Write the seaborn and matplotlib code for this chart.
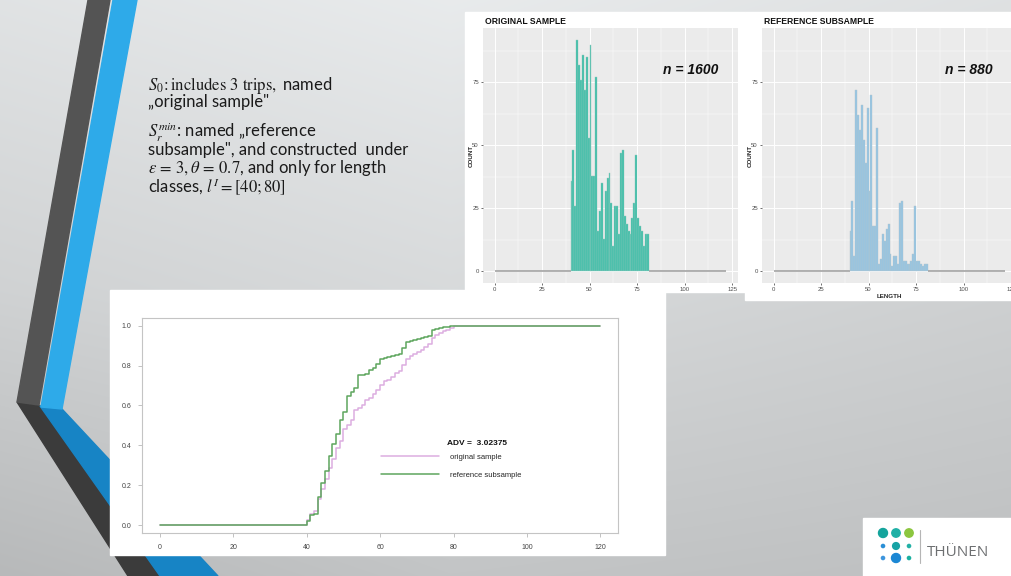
import numpy as np
import pandas as pd
import matplotlib
matplotlib.use("Agg")
import matplotlib.pyplot as plt
from matplotlib.patches import Polygon, Rectangle, Circle
from matplotlib.ticker import MultipleLocator
import seaborn as sns

# length classes and counts
length_classes = list(range(40, 81))
original_counts = [36, 48, 26, 92, 82, 76, 86, 72, 85, 53,
                   90, 38, 38, 77, 16, 24, 35, 13, 32, 37,
                   39, 27, 10, 26, 26, 15, 47, 48, 22, 19,
                   16, 15, 21, 27, 46, 21, 18, 16, 10, 15, 15]
reference_counts = [16, 28, 6, 72, 62, 56, 66, 52, 43, 65,
                    32, 70, 18, 18, 57, 3, 5, 15, 12, 17,
                    19, 7, 2, 6, 6, 3, 27, 28, 4, 4,
                    3, 3, 4, 7, 26, 4, 4, 3, 2, 3, 3]
hist_bin_edges = list(range(0, 123))
ecdf_range = [0, 120]          # empty length classes at both ends of the ECDF
hist_xticks = [0, 25, 50, 75, 100, 125]
hist_yticks = [0, 25, 50, 75]
ecdf_xticks = [0, 20, 40, 60, 80, 100, 120]
ecdf_yticks = [0.0, 0.2, 0.4, 0.6, 0.8, 1.0]
adv_value = 3.02375

sns.set_theme(style="white")
plt.rcParams['font.family'] = ['Liberation Sans', 'DejaVu Sans']
plt.rcParams['mathtext.fontset'] = 'stix'

W, H = 1012, 576
fig = plt.figure(figsize=(W / 100, H / 100), dpi=100)


def px_axes(left, top, right, bottom):
    return fig.add_axes([left / W, 1 - bottom / H, (right - left) / W, (bottom - top) / H])


# ---- slide background ----
bg = fig.add_axes([0, 0, 1, 1])
yy, xx = np.mgrid[0:H, 0:W]
v = 0.925 - 0.13 * (yy / H) - 0.07 * np.abs(xx - 450) / W
v -= 0.07 * np.clip(yy / H - 0.5, 0, None) * (1 - xx / W)
img = np.clip(np.dstack([v * 0.985, v * 0.995, v]), 0, 1)
bg.imshow(img, extent=(0, W, H, 0), aspect='auto')
bg.set_xlim(0, W)
bg.set_ylim(H, 0)
bg.axis('off')

bg.add_patch(Polygon([(17, 402), (40, 406), (160, 576), (128, 576)], color='#3b3b3b'))
bg.add_patch(Polygon([(40, 406), (62, 409), (218, 576), (160, 576)], color='#1784c5'))
bg.add_patch(Polygon([(88, 0), (110, 0), (39, 405), (17, 402)], color='#545454'))
bg.add_patch(Polygon([(113, 0), (137, 0), (62, 409), (41, 407)], color='#2eaae9'))

# white image frames
bg.add_patch(Rectangle((465, 12), 280, 280, color='white'))
bg.add_patch(Rectangle((745, 12), 267, 288, color='white'))
bg.add_patch(Rectangle((110, 290), 555, 265, color='white'))
bg.add_patch(Rectangle((863, 518), 149, 58, color='white'))

# slide text
txt = dict(fontsize=12, color='#1a1a1a', family=['Lato', 'DejaVu Sans'], va='center', ha='left')
bg.text(148, 85, r"$S_0\!: \mathrm{includes\ 3\ trips,}$ named", **txt)
bg.text(148, 102, "\u201eoriginal sample\"", **txt)
bg.text(148, 132, r"$S_r^{min}$: named " + "\u201ereference", **txt)
bg.text(148, 150, "subsample\", and constructed  under", **txt)
bg.text(148, 168, r"$\varepsilon\,=\,3, \theta\,=\,0.7$, and only for length", **txt)
bg.text(148, 187, r"classes, $l^I = [40; 80]$", **txt)

# logo
dots = [(883, 533, 4.5, '#14a49c'), (896, 533, 4.2, '#1fb0a6'), (909, 533, 4.2, '#8cc63f'),
        (883, 546, 1.6, '#2a8fd6'), (896, 546, 3.4, '#17a3a5'), (909, 546, 1.6, '#22b1a6'),
        (883, 558, 1.6, '#3d95dd'), (896, 558, 4.5, '#1b87d4'), (909, 558, 1.6, '#1ab0a0')]
for cx, cy, r, c in dots:
    bg.add_patch(Circle((cx, cy), r, color=c))
bg.plot([920, 920], [530, 563], color='#b5b5b5', lw=0.8)
bg.text(927, 553, "TH\u00dcNEN", fontsize=11, color='#6d6f71',
        family=['Open Sans', 'DejaVu Sans'], va='center', ha='left')


# ---- histograms ----
def gg_hist(ax, counts, fill, edge, title, label_n, xlabel):
    sns.histplot(x=length_classes, weights=counts, bins=hist_bin_edges, color=fill,
                 edgecolor=edge, linewidth=0.3, alpha=1, ax=ax)
    # empty classes show as a grey base line, as in ggplot
    for p in ax.patches:
        if p.get_height() == 0:
            p.set_edgecolor('#a3a3a3')
            p.set_linewidth(1.2)
    ax.set_facecolor('#EBEBEB')
    ax.set_xlim(-6.1, 128.1)
    ax.set_ylim(-4.6, 96.6)
    ax.set_xticks(hist_xticks)
    ax.set_yticks(hist_yticks)
    ax.xaxis.set_minor_locator(MultipleLocator(12.5))
    ax.yaxis.set_minor_locator(MultipleLocator(12.5))
    ax.grid(True, which='major', color='white', lw=0.7)
    ax.grid(True, which='minor', color='white', lw=0.35)
    ax.set_axisbelow(True)
    for s in ax.spines.values():
        s.set_visible(False)
    ax.tick_params(which='major', labelsize=4.3, length=1.5, width=0.5, color='#333333',
                   labelcolor='#4d4d4d', pad=1.5, left=True, bottom=True)
    ax.tick_params(which='minor', length=0)
    ax.set_ylabel("COUNT", fontsize=4.5, fontweight='bold', labelpad=-1)
    ax.set_xlabel(xlabel, fontsize=4.5, fontweight='bold', labelpad=1.5)
    ax.text(103, 80, label_n, fontsize=10, fontweight='bold', style='italic',
            ha='center', va='center', color='#111111')
    fig.text(ax.get_position().x0 + 0.002, 1 - 21 / H, title, fontsize=6.2,
             fontweight='bold', va='center', ha='left', color='#111111')


ax1 = px_axes(483, 28, 738, 283)
gg_hist(ax1, original_counts, '#3bbea8', '#98c8bf', "ORIGINAL SAMPLE", "n = 1600", "")
ax2 = px_axes(762, 28, 1017, 283)
gg_hist(ax2, reference_counts, '#94c5e3', '#b3c4cc', "REFERENCE SUBSAMPLE", "n = 880", "LENGTH")

# ---- ECDF comparison ----
ecdf_orig = pd.DataFrame({"length": length_classes + ecdf_range,
                          "count": original_counts + [0, 0]})
ecdf_ref = pd.DataFrame({"length": length_classes + ecdf_range,
                         "count": reference_counts + [0, 0]})

ax3 = px_axes(142.3, 317.7, 618, 533)
sns.ecdfplot(data=ecdf_orig, x="length", weights="count", color='#dcaee0',
             lw=1.1, label="original sample", ax=ax3)
sns.ecdfplot(data=ecdf_ref, x="length", weights="count", color='#5ea65e',
             lw=1.1, label="reference subsample", ax=ax3)
ax3.set_xlim(-4.8, 124.8)
ax3.set_ylim(-0.04, 1.04)
ax3.set_xticks(ecdf_xticks)
ax3.set_yticks(ecdf_yticks)
ax3.set_yticklabels([f"{t:.1f}" for t in ecdf_yticks])
ax3.set_xlabel("")
ax3.set_ylabel("")
for s in ax3.spines.values():
    s.set_visible(True)
    s.set_color('#c4c4c4')
    s.set_linewidth(0.8)
ax3.tick_params(labelsize=5, length=3, width=0.5, color='#aaaaaa', labelcolor='#444444',
                pad=5, left=True, bottom=True)
ax3.text(78.3, 0.407, f"ADV =  {adv_value}", fontsize=6, fontweight='bold',
         va='center', ha='left', color='#111111')
ax3.legend(loc='upper left', bbox_to_anchor=(60.1, 0.36), bbox_transform=ax3.transData,
           frameon=False, fontsize=5.5, handlelength=7.6, handletextpad=1.5,
           labelspacing=1.45, borderpad=0, borderaxespad=0)

fig.savefig("out.png", dpi=100)
